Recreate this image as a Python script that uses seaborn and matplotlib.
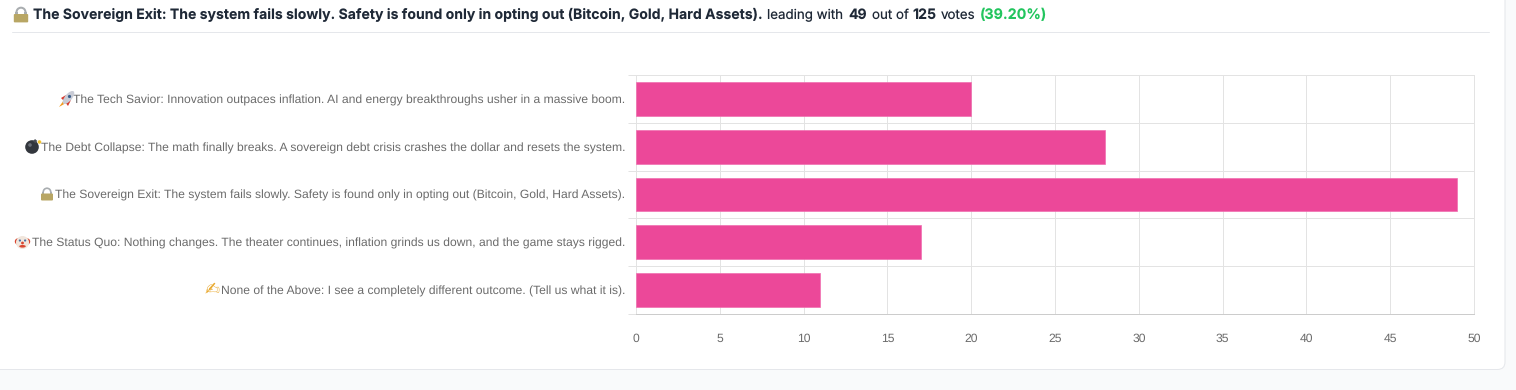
import matplotlib.pyplot as plt
import pandas as pd
import seaborn as sns
from matplotlib.patches import Circle, Ellipse, FancyBboxPatch, Polygon, Rectangle, Wedge

# the emoji are in no installed font (only the writing hand is), they get drawn as small shapes below
options = [
    "The Tech Savior: Innovation outpaces inflation. AI and energy breakthroughs usher in a massive boom.",
    "The Debt Collapse: The math finally breaks. A sovereign debt crisis crashes the dollar and resets the system.",
    "The Sovereign Exit: The system fails slowly. Safety is found only in opting out (Bitcoin, Gold, Hard Assets).",
    "The Status Quo: Nothing changes. The theater continues, inflation grinds us down, and the game stays rigged.",
    "None of the Above: I see a completely different outcome. (Tell us what it is).",
]
votes = [20, 28, 49, 17, 11]
x_ticks = [0, 5, 10, 15, 20, 25, 30, 35, 40, 45, 50]

W, H = 1516, 390
GRID = "#e3e3e3"
TEXT = "#6b6b6b"
DARK = "#1f2937"

sns.set_style("white")
plt.rcParams["font.family"] = ["Liberation Sans", "DejaVu Sans"]
# hinting rounds the glyph widths and makes the label widths jump between sizes
plt.rcParams["text.hinting"] = "no_hinting"
plt.rcParams["text.hinting_factor"] = 8

df = pd.DataFrame({"option": options, "votes": votes})

fig = plt.figure(figsize=(W / 100, H / 100), dpi=100, facecolor="#f9fafb")

# white card behind everything
card = FancyBboxPatch(
    (-20 / W, (H - 369.5) / H), 1525 / W, 420 / H,
    boxstyle="round,pad=0,rounding_size=0.005",
    transform=fig.transFigure, facecolor="white", edgecolor="#e5e7eb", linewidth=0.72,
    mutation_aspect=W / H, zorder=-2,
)
fig.add_artist(card)

# header line
fig.add_artist(plt.Line2D([12 / W, 1489 / W], [(H - 32.2) / H] * 2, color="#e5e7eb", lw=0.72, zorder=-1))

ax = fig.add_axes([636 / W, (H - 314) / H, 838 / W, 239 / H], facecolor="none")
sns.barplot(data=df, y="option", x="votes", color="#ec4899", saturation=1, width=0.71,
            edgecolor="#f06fb0", linewidth=0.5, ax=ax, zorder=3)

ax.set_xlim(0, 50)
ax.set_ylim(4.5, -0.5)
ax.set_xlabel("")
ax.set_ylabel("")
ax.set_xticks(x_ticks)
ax.set_yticks([i + 0.5 for i in range(-1, 5)], minor=True)
ax.grid(True, axis="x", color=GRID, lw=0.72)
ax.grid(True, axis="y", which="minor", color=GRID, lw=0.72)
# the outer grid lines sit on the axes edge and would be cut in half
for tick in ax.xaxis.get_major_ticks() + ax.yaxis.get_minor_ticks():
    tick.gridline.set_clip_on(False)
ax.tick_params(axis="x", length=5.5, width=0.72, color=GRID, labelsize=8.73, labelcolor=TEXT, pad=8.6)
ax.tick_params(axis="y", which="major", length=0, labelsize=8.73, labelcolor=TEXT, pad=7.7)
ax.tick_params(axis="y", which="minor", length=5.5, width=0.72, color=GRID, left=True)
for side in ["top", "right", "left"]:
    ax.spines[side].set_visible(False)
ax.spines["bottom"].set_color("#cccccc")
ax.spines["bottom"].set_linewidth(0.72)

# header, one piece per weight and colour
inter = ["Inter", "DejaVu Sans"]
header_y = (H - 15) / H
header = [
    (33, "The Sovereign Exit: The system fails slowly. Safety is found only in opting out (Bitcoin, Gold, Hard Assets).", "bold", DARK, 10.11),
    (767, "leading with", "normal", DARK, 9.6),
    (848, "49", "bold", DARK, 10.1),
    (872, "out of", "normal", DARK, 9.6),
    (912, "125", "bold", DARK, 10.2),
    (941, "votes", "normal", DARK, 9.6),
    (980, "(39.20%)", "bold", "#22c55e", 10.3),
]
for x, s, weight, color, size in header:
    fig.text(x / W, header_y, s, family=inter, weight=weight, color=color, fontsize=size, va="center", ha="left")

# overlay in pixel coordinates for the emoji shapes
icons = fig.add_axes([0, 0, 1, 1], facecolor="none", zorder=5)
icons.set_xlim(0, W)
icons.set_ylim(H, 0)
icons.axis("off")


def draw_lock(cx, cy, s):
    icons.add_patch(Wedge((cx, cy - 1.5 * s), 4.6 * s, 180, 360, width=1.7 * s, facecolor="#a9adb0", edgecolor="none"))
    icons.add_patch(Rectangle((cx - 4.6 * s, cy - 1.5 * s), 1.7 * s, 2 * s, facecolor="#a9adb0", edgecolor="none"))
    icons.add_patch(Rectangle((cx + 2.9 * s, cy - 1.5 * s), 1.7 * s, 2 * s, facecolor="#a9adb0", edgecolor="none"))
    icons.add_patch(FancyBboxPatch((cx - 6 * s, cy), 12 * s, 7 * s, boxstyle="round,pad=0,rounding_size=1",
                                   facecolor="#b8a664", edgecolor="none"))


def draw_rocket(cx, cy):
    icons.add_patch(Polygon([(cx - 8, cy + 8), (cx - 3, cy + 1), (cx - 1, cy + 4)], facecolor="#f39c1f", edgecolor="none"))
    icons.add_patch(Polygon([(cx - 6, cy - 1), (cx - 1, cy - 4), (cx - 3, cy + 2)], facecolor="#d8392b", edgecolor="none"))
    icons.add_patch(Polygon([(cx + 1, cy + 7), (cx + 4, cy + 1), (cx - 2, cy + 3)], facecolor="#d8392b", edgecolor="none"))
    icons.add_patch(Ellipse((cx + 1.5, cy - 1.5), 7, 16, angle=40, facecolor="#c9ccd6", edgecolor="none"))
    icons.add_patch(Circle((cx + 2.5, cy - 2.5), 1.6, facecolor="#3b5f8a", edgecolor="none"))


def draw_bomb(cx, cy):
    icons.add_patch(Circle((cx - 1, cy + 1), 6.8, facecolor="#33373d", edgecolor="none"))
    icons.add_patch(Circle((cx - 3, cy - 1), 1.8, facecolor="#6a6f77", edgecolor="none"))
    icons.add_patch(Rectangle((cx + 2, cy - 7), 3, 3, angle=40, facecolor="#4a4e55", edgecolor="none"))
    icons.add_patch(Circle((cx + 6.5, cy - 4), 1.8, facecolor="#f2c230", edgecolor="none"))


def draw_clown(cx, cy):
    icons.add_patch(Circle((cx - 4.5, cy - 1), 3.2, facecolor="#d9452f", edgecolor="none"))
    icons.add_patch(Circle((cx + 4.5, cy - 1), 3.2, facecolor="#d9452f", edgecolor="none"))
    icons.add_patch(Circle((cx, cy), 6.5, facecolor="#f1e6dc", edgecolor="none"))
    icons.add_patch(Circle((cx - 2.6, cy - 2), 1.1, facecolor="#4a6fa5", edgecolor="none"))
    icons.add_patch(Circle((cx + 2.6, cy - 2), 1.1, facecolor="#4a6fa5", edgecolor="none"))
    icons.add_patch(Circle((cx, cy + 0.5), 1.4, facecolor="#d9452f", edgecolor="none"))
    icons.add_patch(Ellipse((cx, cy + 3.8), 6.5, 2.6, facecolor="#d9452f", edgecolor="none"))


draw_lock(21, 14, 1.2)
draw_rocket(67, 99)
draw_bomb(33, 146)
draw_lock(47, 193.5, 1.0)
draw_clown(22.5, 242.5)

# the writing hand does exist in DejaVu Sans
fig.text(212 / W, (H - 289.5) / H, "✍", family=["DejaVu Sans"], color="#e9a92f", fontsize=13, va="center", ha="center")

fig.savefig("out.png", dpi=100, facecolor=fig.get_facecolor())
plt.close(fig)
